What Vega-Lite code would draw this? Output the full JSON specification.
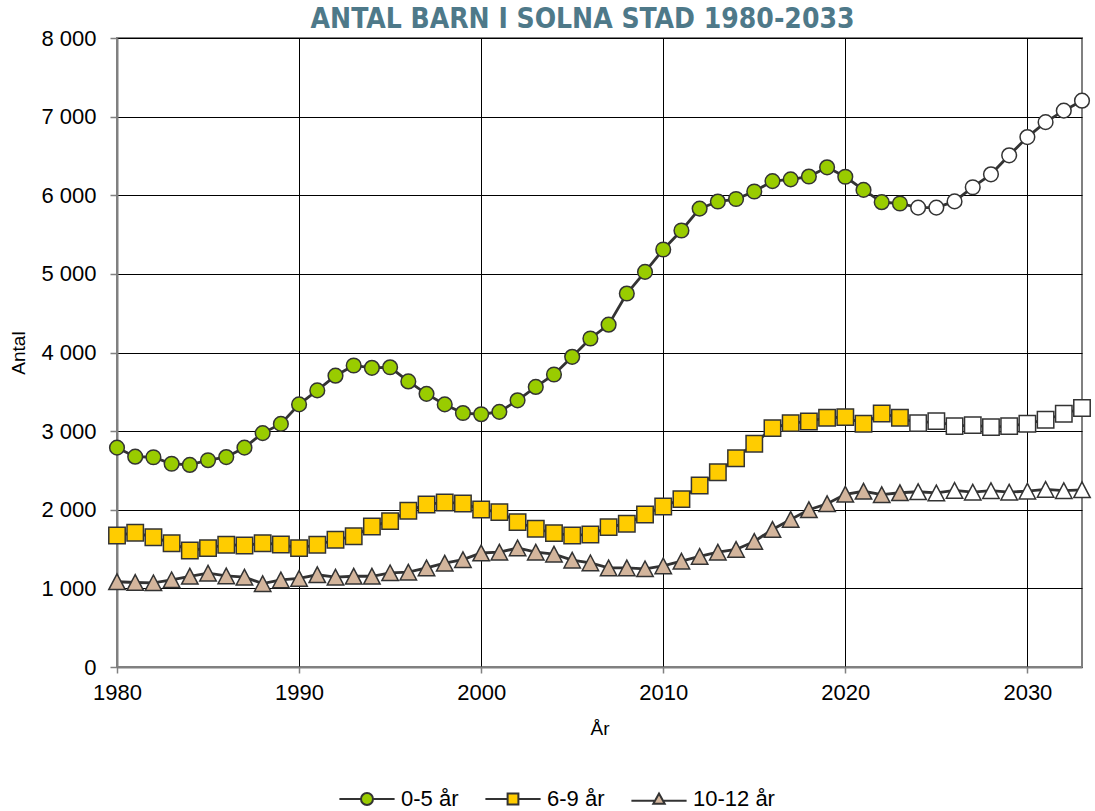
{
  "$schema": "https://vega.github.io/schema/vega-lite/v6.json",
  "width": 965,
  "height": 629,
  "autosize": "none",
  "padding": {"left": 117, "top": 38, "right": 13, "bottom": 144},
  "background": "white",
  "config": {
    "font": "Liberation Sans",
    "view": {"stroke": "#808080", "strokeWidth": 2}
  },
  "title": {
    "text": "ANTAL BARN I SOLNA STAD 1980-2033",
    "font": "DejaVu Sans Condensed, Roboto",
    "fontSize": 28,
    "fontWeight": "bold",
    "color": "#4e7989",
    "anchor": "middle",
    "dx": -17,
    "dy": 11,
    "offset": 4
  },
  "datasets": {
    "barn": [
      {"år": 1980, "grupp": "0-5 år", "antal": 2790, "prognos": false},
      {"år": 1981, "grupp": "0-5 år", "antal": 2675, "prognos": false},
      {"år": 1982, "grupp": "0-5 år", "antal": 2668, "prognos": false},
      {"år": 1983, "grupp": "0-5 år", "antal": 2585, "prognos": false},
      {"år": 1984, "grupp": "0-5 år", "antal": 2570, "prognos": false},
      {"år": 1985, "grupp": "0-5 år", "antal": 2630, "prognos": false},
      {"år": 1986, "grupp": "0-5 år", "antal": 2670, "prognos": false},
      {"år": 1987, "grupp": "0-5 år", "antal": 2790, "prognos": false},
      {"år": 1988, "grupp": "0-5 år", "antal": 2975, "prognos": false},
      {"år": 1989, "grupp": "0-5 år", "antal": 3092, "prognos": false},
      {"år": 1990, "grupp": "0-5 år", "antal": 3340, "prognos": false},
      {"år": 1991, "grupp": "0-5 år", "antal": 3518, "prognos": false},
      {"år": 1992, "grupp": "0-5 år", "antal": 3705, "prognos": false},
      {"år": 1993, "grupp": "0-5 år", "antal": 3835, "prognos": false},
      {"år": 1994, "grupp": "0-5 år", "antal": 3805, "prognos": false},
      {"år": 1995, "grupp": "0-5 år", "antal": 3812, "prognos": false},
      {"år": 1996, "grupp": "0-5 år", "antal": 3632, "prognos": false},
      {"år": 1997, "grupp": "0-5 år", "antal": 3474, "prognos": false},
      {"år": 1998, "grupp": "0-5 år", "antal": 3340, "prognos": false},
      {"år": 1999, "grupp": "0-5 år", "antal": 3230, "prognos": false},
      {"år": 2000, "grupp": "0-5 år", "antal": 3215, "prognos": false},
      {"år": 2001, "grupp": "0-5 år", "antal": 3245, "prognos": false},
      {"år": 2002, "grupp": "0-5 år", "antal": 3392, "prognos": false},
      {"år": 2003, "grupp": "0-5 år", "antal": 3562, "prognos": false},
      {"år": 2004, "grupp": "0-5 år", "antal": 3720, "prognos": false},
      {"år": 2005, "grupp": "0-5 år", "antal": 3945, "prognos": false},
      {"år": 2006, "grupp": "0-5 år", "antal": 4178, "prognos": false},
      {"år": 2007, "grupp": "0-5 år", "antal": 4354, "prognos": false},
      {"år": 2008, "grupp": "0-5 år", "antal": 4750, "prognos": false},
      {"år": 2009, "grupp": "0-5 år", "antal": 5025, "prognos": false},
      {"år": 2010, "grupp": "0-5 år", "antal": 5310, "prognos": false},
      {"år": 2011, "grupp": "0-5 år", "antal": 5552, "prognos": false},
      {"år": 2012, "grupp": "0-5 år", "antal": 5830, "prognos": false},
      {"år": 2013, "grupp": "0-5 år", "antal": 5920, "prognos": false},
      {"år": 2014, "grupp": "0-5 år", "antal": 5952, "prognos": false},
      {"år": 2015, "grupp": "0-5 år", "antal": 6048, "prognos": false},
      {"år": 2016, "grupp": "0-5 år", "antal": 6180, "prognos": false},
      {"år": 2017, "grupp": "0-5 år", "antal": 6202, "prognos": false},
      {"år": 2018, "grupp": "0-5 år", "antal": 6238, "prognos": false},
      {"år": 2019, "grupp": "0-5 år", "antal": 6355, "prognos": false},
      {"år": 2020, "grupp": "0-5 år", "antal": 6235, "prognos": false},
      {"år": 2021, "grupp": "0-5 år", "antal": 6068, "prognos": false},
      {"år": 2022, "grupp": "0-5 år", "antal": 5912, "prognos": false},
      {"år": 2023, "grupp": "0-5 år", "antal": 5895, "prognos": false},
      {"år": 2024, "grupp": "0-5 år", "antal": 5843, "prognos": true},
      {"år": 2025, "grupp": "0-5 år", "antal": 5843, "prognos": true},
      {"år": 2026, "grupp": "0-5 år", "antal": 5922, "prognos": true},
      {"år": 2027, "grupp": "0-5 år", "antal": 6102, "prognos": true},
      {"år": 2028, "grupp": "0-5 år", "antal": 6266, "prognos": true},
      {"år": 2029, "grupp": "0-5 år", "antal": 6508, "prognos": true},
      {"år": 2030, "grupp": "0-5 år", "antal": 6740, "prognos": true},
      {"år": 2031, "grupp": "0-5 år", "antal": 6930, "prognos": true},
      {"år": 2032, "grupp": "0-5 år", "antal": 7076, "prognos": true},
      {"år": 2033, "grupp": "0-5 år", "antal": 7203, "prognos": true},
      {"år": 1980, "grupp": "6-9 år", "antal": 1673, "prognos": false},
      {"år": 1981, "grupp": "6-9 år", "antal": 1707, "prognos": false},
      {"år": 1982, "grupp": "6-9 år", "antal": 1651, "prognos": false},
      {"år": 1983, "grupp": "6-9 år", "antal": 1575, "prognos": false},
      {"år": 1984, "grupp": "6-9 år", "antal": 1482, "prognos": false},
      {"år": 1985, "grupp": "6-9 år", "antal": 1512, "prognos": false},
      {"år": 1986, "grupp": "6-9 år", "antal": 1555, "prognos": false},
      {"år": 1987, "grupp": "6-9 år", "antal": 1546, "prognos": false},
      {"år": 1988, "grupp": "6-9 år", "antal": 1575, "prognos": false},
      {"år": 1989, "grupp": "6-9 år", "antal": 1558, "prognos": false},
      {"år": 1990, "grupp": "6-9 år", "antal": 1512, "prognos": false},
      {"år": 1991, "grupp": "6-9 år", "antal": 1555, "prognos": false},
      {"år": 1992, "grupp": "6-9 år", "antal": 1618, "prognos": false},
      {"år": 1993, "grupp": "6-9 år", "antal": 1664, "prognos": false},
      {"år": 1994, "grupp": "6-9 år", "antal": 1788, "prognos": false},
      {"år": 1995, "grupp": "6-9 år", "antal": 1855, "prognos": false},
      {"år": 1996, "grupp": "6-9 år", "antal": 1987, "prognos": false},
      {"år": 1997, "grupp": "6-9 år", "antal": 2067, "prognos": false},
      {"år": 1998, "grupp": "6-9 år", "antal": 2093, "prognos": false},
      {"år": 1999, "grupp": "6-9 år", "antal": 2080, "prognos": false},
      {"år": 2000, "grupp": "6-9 år", "antal": 2004, "prognos": false},
      {"år": 2001, "grupp": "6-9 år", "antal": 1970, "prognos": false},
      {"år": 2002, "grupp": "6-9 år", "antal": 1843, "prognos": false},
      {"år": 2003, "grupp": "6-9 år", "antal": 1758, "prognos": false},
      {"år": 2004, "grupp": "6-9 år", "antal": 1703, "prognos": false},
      {"år": 2005, "grupp": "6-9 år", "antal": 1673, "prognos": false},
      {"år": 2006, "grupp": "6-9 år", "antal": 1686, "prognos": false},
      {"år": 2007, "grupp": "6-9 år", "antal": 1779, "prognos": false},
      {"år": 2008, "grupp": "6-9 år", "antal": 1822, "prognos": false},
      {"år": 2009, "grupp": "6-9 år", "antal": 1940, "prognos": false},
      {"år": 2010, "grupp": "6-9 år", "antal": 2042, "prognos": false},
      {"år": 2011, "grupp": "6-9 år", "antal": 2135, "prognos": false},
      {"år": 2012, "grupp": "6-9 år", "antal": 2309, "prognos": false},
      {"år": 2013, "grupp": "6-9 år", "antal": 2478, "prognos": false},
      {"år": 2014, "grupp": "6-9 år", "antal": 2656, "prognos": false},
      {"år": 2015, "grupp": "6-9 år", "antal": 2840, "prognos": false},
      {"år": 2016, "grupp": "6-9 år", "antal": 3038, "prognos": false},
      {"år": 2017, "grupp": "6-9 år", "antal": 3102, "prognos": false},
      {"år": 2018, "grupp": "6-9 år", "antal": 3123, "prognos": false},
      {"år": 2019, "grupp": "6-9 år", "antal": 3170, "prognos": false},
      {"år": 2020, "grupp": "6-9 år", "antal": 3178, "prognos": false},
      {"år": 2021, "grupp": "6-9 år", "antal": 3094, "prognos": false},
      {"år": 2022, "grupp": "6-9 år", "antal": 3225, "prognos": false},
      {"år": 2023, "grupp": "6-9 år", "antal": 3170, "prognos": false},
      {"år": 2024, "grupp": "6-9 år", "antal": 3102, "prognos": true},
      {"år": 2025, "grupp": "6-9 år", "antal": 3127, "prognos": true},
      {"år": 2026, "grupp": "6-9 år", "antal": 3064, "prognos": true},
      {"år": 2027, "grupp": "6-9 år", "antal": 3076, "prognos": true},
      {"år": 2028, "grupp": "6-9 år", "antal": 3051, "prognos": true},
      {"år": 2029, "grupp": "6-9 år", "antal": 3064, "prognos": true},
      {"år": 2030, "grupp": "6-9 år", "antal": 3094, "prognos": true},
      {"år": 2031, "grupp": "6-9 år", "antal": 3145, "prognos": true},
      {"år": 2032, "grupp": "6-9 år", "antal": 3221, "prognos": true},
      {"år": 2033, "grupp": "6-9 år", "antal": 3293, "prognos": true},
      {"år": 1980, "grupp": "10-12 år", "antal": 1084, "prognos": false},
      {"år": 1981, "grupp": "10-12 år", "antal": 1075, "prognos": false},
      {"år": 1982, "grupp": "10-12 år", "antal": 1071, "prognos": false},
      {"år": 1983, "grupp": "10-12 år", "antal": 1109, "prognos": false},
      {"år": 1984, "grupp": "10-12 år", "antal": 1154, "prognos": false},
      {"år": 1985, "grupp": "10-12 år", "antal": 1194, "prognos": false},
      {"år": 1986, "grupp": "10-12 år", "antal": 1158, "prognos": false},
      {"år": 1987, "grupp": "10-12 år", "antal": 1143, "prognos": false},
      {"år": 1988, "grupp": "10-12 år", "antal": 1060, "prognos": false},
      {"år": 1989, "grupp": "10-12 år", "antal": 1107, "prognos": false},
      {"år": 1990, "grupp": "10-12 år", "antal": 1126, "prognos": false},
      {"år": 1991, "grupp": "10-12 år", "antal": 1173, "prognos": false},
      {"år": 1992, "grupp": "10-12 år", "antal": 1143, "prognos": false},
      {"år": 1993, "grupp": "10-12 år", "antal": 1154, "prognos": false},
      {"år": 1994, "grupp": "10-12 år", "antal": 1154, "prognos": false},
      {"år": 1995, "grupp": "10-12 år", "antal": 1198, "prognos": false},
      {"år": 1996, "grupp": "10-12 år", "antal": 1206, "prognos": false},
      {"år": 1997, "grupp": "10-12 år", "antal": 1260, "prognos": false},
      {"år": 1998, "grupp": "10-12 år", "antal": 1321, "prognos": false},
      {"år": 1999, "grupp": "10-12 år", "antal": 1365, "prognos": false},
      {"år": 2000, "grupp": "10-12 år", "antal": 1450, "prognos": false},
      {"år": 2001, "grupp": "10-12 år", "antal": 1460, "prognos": false},
      {"år": 2002, "grupp": "10-12 år", "antal": 1514, "prognos": false},
      {"år": 2003, "grupp": "10-12 år", "antal": 1461, "prognos": false},
      {"år": 2004, "grupp": "10-12 år", "antal": 1435, "prognos": false},
      {"år": 2005, "grupp": "10-12 år", "antal": 1359, "prognos": false},
      {"år": 2006, "grupp": "10-12 år", "antal": 1325, "prognos": false},
      {"år": 2007, "grupp": "10-12 år", "antal": 1260, "prognos": false},
      {"år": 2008, "grupp": "10-12 år", "antal": 1260, "prognos": false},
      {"år": 2009, "grupp": "10-12 år", "antal": 1249, "prognos": false},
      {"år": 2010, "grupp": "10-12 år", "antal": 1285, "prognos": false},
      {"år": 2011, "grupp": "10-12 år", "antal": 1346, "prognos": false},
      {"år": 2012, "grupp": "10-12 år", "antal": 1406, "prognos": false},
      {"år": 2013, "grupp": "10-12 år", "antal": 1461, "prognos": false},
      {"år": 2014, "grupp": "10-12 år", "antal": 1495, "prognos": false},
      {"år": 2015, "grupp": "10-12 år", "antal": 1597, "prognos": false},
      {"år": 2016, "grupp": "10-12 år", "antal": 1749, "prognos": false},
      {"år": 2017, "grupp": "10-12 år", "antal": 1877, "prognos": false},
      {"år": 2018, "grupp": "10-12 år", "antal": 2000, "prognos": false},
      {"år": 2019, "grupp": "10-12 år", "antal": 2076, "prognos": false},
      {"år": 2020, "grupp": "10-12 år", "antal": 2197, "prognos": false},
      {"år": 2021, "grupp": "10-12 år", "antal": 2235, "prognos": false},
      {"år": 2022, "grupp": "10-12 år", "antal": 2192, "prognos": false},
      {"år": 2023, "grupp": "10-12 år", "antal": 2216, "prognos": false},
      {"år": 2024, "grupp": "10-12 år", "antal": 2229, "prognos": true},
      {"år": 2025, "grupp": "10-12 år", "antal": 2214, "prognos": true},
      {"år": 2026, "grupp": "10-12 år", "antal": 2246, "prognos": true},
      {"år": 2027, "grupp": "10-12 år", "antal": 2224, "prognos": true},
      {"år": 2028, "grupp": "10-12 år", "antal": 2243, "prognos": true},
      {"år": 2029, "grupp": "10-12 år", "antal": 2224, "prognos": true},
      {"år": 2030, "grupp": "10-12 år", "antal": 2237, "prognos": true},
      {"år": 2031, "grupp": "10-12 år", "antal": 2258, "prognos": true},
      {"år": 2032, "grupp": "10-12 år", "antal": 2243, "prognos": true},
      {"år": 2033, "grupp": "10-12 år", "antal": 2254, "prognos": true}
    ]
  },
  "data": {"name": "barn"},
  "encoding": {
    "x": {
      "field": "år",
      "type": "quantitative",
      "scale": {"domain": [1980, 2033], "nice": false, "zero": false},
      "axis": {
        "title": "År",
        "values": [1980, 1990, 2000, 2010, 2020, 2030],
        "format": "d",
        "labelFontSize": 22,
        "labelColor": "#000",
        "labelPadding": 9,
        "labelFlush": false,
        "titleFontSize": 19,
        "titleFontWeight": "normal",
        "titleColor": "#000",
        "titlePadding": 16,
        "grid": true,
        "gridColor": "#000",
        "gridWidth": 1,
        "domainColor": "#808080",
        "domainWidth": 2,
        "tickColor": "#808080",
        "tickSize": 6,
        "tickWidth": 1.5
      }
    },
    "y": {
      "field": "antal",
      "type": "quantitative",
      "scale": {"domain": [0, 8000], "nice": false},
      "axis": {
        "title": "Antal",
        "values": [0, 1000, 2000, 3000, 4000, 5000, 6000, 7000, 8000],
        "labelExpr": "replace(format(datum.value, ','), ',', ' ')",
        "labelFontSize": 22,
        "labelColor": "#000",
        "labelPadding": 14,
        "titleFontSize": 19,
        "titleFontWeight": "normal",
        "titleColor": "#000",
        "titlePadding": 12,
        "grid": true,
        "gridColor": "#000",
        "gridWidth": 1,
        "domainColor": "#808080",
        "domainWidth": 2,
        "tickColor": "#808080",
        "tickSize": 7,
        "tickWidth": 1.5
      }
    }
  },
  "layer": [
    {
      "mark": {"type": "line", "color": "#333333", "strokeWidth": 2.8},
      "encoding": {"detail": {"field": "grupp"}}
    },
    {
      "transform": [{"filter": "datum.grupp === '0-5 år'"}],
      "mark": {"type": "point", "shape": "circle", "filled": true, "size": 215, "stroke": "#333333", "strokeWidth": 1.5, "opacity": 1},
      "encoding": {
        "fill": {"condition": {"test": "datum.prognos", "value": "#ffffff"}, "value": "#99cc00"}
      }
    },
    {
      "transform": [{"filter": "datum.grupp === '6-9 år'"}],
      "mark": {"type": "point", "shape": "square", "filled": true, "size": 270, "stroke": "#333333", "strokeWidth": 1.5, "opacity": 1},
      "encoding": {
        "fill": {"condition": {"test": "datum.prognos", "value": "#ffffff"}, "value": "#ffcc00"}
      }
    },
    {
      "transform": [{"filter": "datum.grupp === '10-12 år'"}],
      "mark": {"type": "point", "shape": "M0,-0.95L1,0.95L-1,0.95Z", "filled": true, "size": 270, "stroke": "#333333", "strokeWidth": 1.5, "opacity": 1},
      "encoding": {
        "fill": {"condition": {"test": "datum.prognos", "value": "#ffffff"}, "value": "#d3b59c"}
      }
    },
    {
      "transform": [{"filter": "datum['år'] < 0"}],
      "mark": {"type": "point", "filled": true, "strokeWidth": 2, "opacity": 1},
      "encoding": {
        "shape": {
          "field": "grupp",
          "type": "nominal",
          "scale": {
            "domain": ["0-5 år", "6-9 år", "10-12 år"],
            "range": [
              "M-4.6,0L-1,0M1,0L4.6,0M1,0A1,1,0,1,1,-1,0A1,1,0,1,1,1,0Z",
              "M-4.6,0L-0.9,0M0.9,0L4.6,0M-0.9,-0.9L0.9,-0.9L0.9,0.9L-0.9,0.9Z",
              "M-4.6,0.3L-0.8,0.3M0.8,0.3L4.6,0.3M0,-0.9L0.95,0.8L-0.95,0.8Z"
            ]
          },
          "legend": {
            "orient": "none", "legendX": 239, "legendY": 750,
            "direction": "horizontal", "title": null,
            "symbolSize": 144, "symbolStrokeWidth": 2,
            "labelFontSize": 22, "labelColor": "#000",
            "labelOffset": 23, "columnPadding": 22
          }
        },
        "fill": {
          "field": "grupp",
          "type": "nominal",
          "scale": {
            "domain": ["0-5 år", "6-9 år", "10-12 år"],
            "range": ["#99cc00", "#ffcc00", "#d3b59c"]
          },
          "legend": {
            "orient": "none", "legendX": 239, "legendY": 750,
            "direction": "horizontal", "title": null,
            "symbolSize": 144, "symbolStrokeWidth": 2,
            "labelFontSize": 22, "labelColor": "#000",
            "labelOffset": 23, "columnPadding": 22
          }
        },
        "stroke": {
          "field": "grupp",
          "type": "nominal",
          "scale": {
            "domain": ["0-5 år", "6-9 år", "10-12 år"],
            "range": ["#333333", "#333333", "#333333"]
          },
          "legend": {
            "orient": "none", "legendX": 239, "legendY": 750,
            "direction": "horizontal", "title": null,
            "symbolSize": 144, "symbolStrokeWidth": 2,
            "labelFontSize": 22, "labelColor": "#000",
            "labelOffset": 23, "columnPadding": 22
          }
        }
      }
    }
  ]
}
